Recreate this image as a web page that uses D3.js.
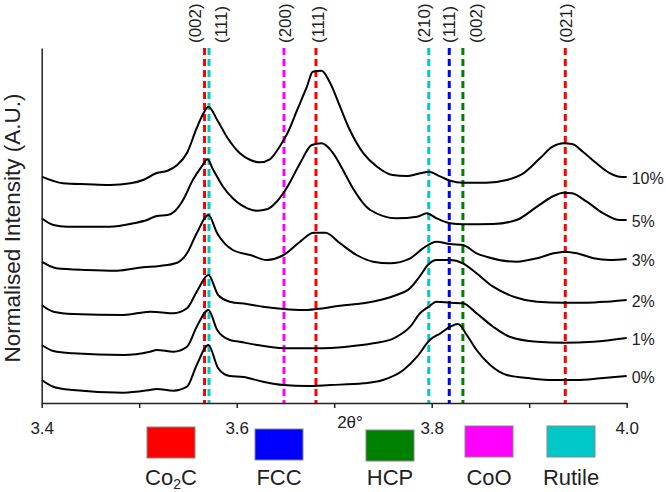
<!DOCTYPE html>
<html>
<head>
<meta charset="utf-8">
<script src="https://cdn.jsdelivr.net/npm/d3@7"></script>
<style>
  body { margin: 0; background: #fff; }
  svg { font-family: Arial, "Liberation Sans", sans-serif; }
</style>
</head>
<body>
<div id="chart"></div>
<script>
// 2theta (deg) vs normalised intensity (A.U., offset per sample)
var s0 = [[3.400,2.30],[3.412,1.63],[3.432,1.30],[3.484,1.03],[3.511,1.30],[3.518,1.40],[3.535,1.23],[3.549,1.63],[3.559,3.80],[3.571,5.80],[3.581,3.47],[3.593,2.70],[3.607,2.60],[3.627,2.13],[3.648,1.80],[3.672,1.70],[3.696,1.80],[3.730,1.97],[3.750,2.30],[3.771,3.30],[3.785,4.63],[3.798,6.30],[3.809,6.97],[3.819,7.63],[3.827,7.90],[3.836,6.80],[3.846,5.30],[3.860,3.80],[3.877,2.80],[3.901,2.47],[3.925,2.30],[3.949,2.30],[3.973,2.47],[4.000,2.70]];
var s1 = [[3.400,5.80],[3.412,5.20],[3.432,4.97],[3.484,4.80],[3.511,5.13],[3.518,5.30],[3.535,5.13],[3.549,5.63],[3.559,7.63],[3.571,9.30],[3.580,7.30],[3.593,6.30],[3.603,6.13],[3.621,5.80],[3.648,5.47],[3.682,5.47],[3.713,5.63],[3.740,5.97],[3.761,6.47],[3.778,7.63],[3.788,8.97],[3.797,9.63],[3.805,10.13],[3.819,10.03],[3.832,9.97],[3.846,8.97],[3.863,7.63],[3.880,6.63],[3.908,6.13],[3.935,6.03],[3.966,6.13],[4.000,6.50]];
var s2 = [[3.400,9.80],[3.412,9.13],[3.432,8.90],[3.484,8.80],[3.511,9.13],[3.521,9.07],[3.535,8.97],[3.549,9.47],[3.559,11.13],[3.571,12.80],[3.581,10.80],[3.593,10.13],[3.610,9.90],[3.627,9.63],[3.648,9.40],[3.667,9.30],[3.682,9.40],[3.706,9.73],[3.730,9.97],[3.747,10.30],[3.764,10.80],[3.778,11.50],[3.788,12.70],[3.796,13.80],[3.805,14.30],[3.819,14.30],[3.832,13.97],[3.846,12.97],[3.863,11.63],[3.884,10.63],[3.908,10.13],[3.935,10.03],[3.959,10.03],[3.980,10.13],[4.000,10.30]];
var s3 = [[3.400,14.13],[3.415,13.47],[3.446,13.30],[3.477,13.23],[3.504,13.57],[3.521,13.70],[3.539,14.03],[3.549,14.97],[3.559,16.97],[3.571,18.80],[3.580,16.97],[3.596,15.30],[3.614,14.80],[3.631,14.30],[3.648,14.80],[3.665,16.13],[3.679,17.03],[3.691,17.03],[3.706,15.97],[3.723,14.80],[3.740,14.13],[3.757,13.97],[3.778,14.47],[3.791,15.47],[3.805,16.13],[3.819,15.90],[3.832,15.80],[3.846,14.97],[3.856,14.63],[3.887,14.13],[3.908,14.47],[3.925,14.97],[3.937,15.13],[3.949,14.97],[3.966,14.47],[3.983,14.30],[4.000,14.40]];
var s5 = [[3.400,18.47],[3.412,17.80],[3.426,17.63],[3.470,17.63],[3.494,17.97],[3.508,18.30],[3.518,18.70],[3.529,18.80],[3.537,19.23],[3.545,20.30],[3.555,22.30],[3.564,23.63],[3.570,24.37],[3.576,23.30],[3.586,21.63],[3.596,20.47],[3.611,19.47],[3.621,19.23],[3.631,19.37],[3.641,20.13],[3.652,21.63],[3.665,23.97],[3.677,25.80],[3.687,25.97],[3.699,24.97],[3.709,23.30],[3.719,21.50],[3.737,19.30],[3.764,18.47],[3.785,18.63],[3.795,18.97],[3.805,18.47],[3.819,17.97],[3.832,17.87],[3.863,17.90],[3.887,18.30],[3.908,19.63],[3.925,20.70],[3.935,21.03],[3.944,20.97],[3.959,20.13],[3.976,18.97],[3.993,18.30],[4.000,18.30]];
var s10 = [[3.400,22.63],[3.422,21.97],[3.447,21.87],[3.470,21.80],[3.491,21.97],[3.504,22.30],[3.518,23.00],[3.529,23.23],[3.539,23.80],[3.549,25.00],[3.559,27.50],[3.565,28.80],[3.571,29.63],[3.580,28.30],[3.590,26.60],[3.603,25.00],[3.614,24.30],[3.624,24.07],[3.634,24.37],[3.644,25.63],[3.652,26.97],[3.662,29.30],[3.672,31.63],[3.678,33.13],[3.687,33.23],[3.696,31.97],[3.706,29.63],[3.716,27.30],[3.730,24.97],[3.744,23.63],[3.760,22.80],[3.774,22.70],[3.788,22.97],[3.797,23.13],[3.809,22.63],[3.819,22.23],[3.832,22.03],[3.856,22.03],[3.877,22.30],[3.894,22.97],[3.911,24.47],[3.924,25.63],[3.935,25.97],[3.944,25.90],[3.955,25.13],[3.969,23.97],[3.983,22.97],[3.993,22.63],[4.000,22.60]];

var seriesNames = ['0%', '1%', '2%', '3%', '5%', '10%'];
var seriesValues = [s0, s1, s2, s3, s5, s10];

// reference peak positions
var peakPhases = ['Co2C', 'Rutile', 'CoO', 'Co2C', 'Rutile', 'FCC', 'HCP', 'Co2C'];
var peakPositions = [3.567, 3.5716, 3.6485, 3.6813, 3.797, 3.818, 3.832, 3.937];
var peakLabels = ['(002)', '(111)', '(200)', '(111)', '(210)', '(111)', '(002)', '(021)'];
var peakLabelPositions = [3.5575, 3.584, 3.6495, 3.6838, 3.792, 3.818, 3.845, 3.938];

var phases = ['Co2C', 'FCC', 'HCP', 'CoO', 'Rutile'];
var phaseColors = ['#ff0000', '#0000ff', '#008000', '#ff00ff', '#00c8c8'];

var xTicks = [3.4, 3.5, 3.6, 3.7, 3.8, 3.9, 4.0];
var xTickLabels = ['3.4', '', '3.6', '', '3.8', '', '4.0'];

(function() {
  var width = 666, height = 492;
  var plotLeft = 41.7, plotRight = 626.7, plotTop = 48, plotBottom = 403;

  var svg = d3.select('#chart').append('svg')
    .attr('width', width)
    .attr('height', height);

  var x = d3.scaleLinear().domain([3.4, 4.0]).range([plotLeft, plotRight]);
  var y = d3.scaleLinear().domain([0, 35.5]).range([plotBottom, plotTop]);
  var color = d3.scaleOrdinal().domain(phases).range(phaseColors);

  // dashed reference lines
  svg.append('g').selectAll('line')
    .data(peakPositions)
    .enter().append('line')
      .attr('x1', function(d) { return x(d); })
      .attr('x2', function(d) { return x(d); })
      .attr('y1', plotTop)
      .attr('y2', plotBottom)
      .attr('stroke', function(d, i) { return color(peakPhases[i]); })
      .attr('stroke-width', 3)
      .attr('stroke-dasharray', '7,4');

  svg.append('g').selectAll('text')
    .data(peakLabels)
    .enter().append('text')
      .attr('transform', function(d, i) {
        return 'translate(' + x(peakLabelPositions[i]) + ',43) rotate(-90)';
      })
      .attr('dy', '0.35em')
      .attr('font-size', 17)
      .attr('fill', '#222')
      .text(function(d) { return d; });

  // curves
  var line = d3.line()
    .x(function(d) { return x(d[0]); })
    .y(function(d) { return y(d[1]); })
    .curve(d3.curveMonotoneX);

  svg.append('g').selectAll('path')
    .data(seriesValues)
    .enter().append('path')
      .attr('d', line)
      .attr('fill', 'none')
      .attr('stroke', '#000')
      .attr('stroke-width', 2);

  svg.append('g').selectAll('text')
    .data(seriesNames)
    .enter().append('text')
      .attr('x', plotRight + 5)
      .attr('y', function(d, i) {
        var s = seriesValues[i];
        return y(s[s.length - 1][1]) + 7;
      })
      .attr('font-size', 16)
      .attr('fill', '#222')
      .text(function(d) { return d; });

  // axes
  var xAxis = d3.axisBottom(x)
    .tickValues(xTicks)
    .tickSize(5)
    .tickSizeOuter(0)
    .tickPadding(14)
    .tickFormat(function(d, i) { return xTickLabels[i]; });

  var xg = svg.append('g')
    .attr('transform', 'translate(0,' + plotBottom + ')')
    .call(xAxis);
  xg.selectAll('text').attr('font-size', 17).attr('fill', '#222').attr('font-family', null);
  xg.selectAll('line, path').attr('stroke', '#222').attr('stroke-width', 1.5);

  var yg = svg.append('g')
    .attr('transform', 'translate(' + plotLeft + ',0)')
    .call(d3.axisLeft(y).tickValues([]).tickSizeOuter(0));
  yg.selectAll('path').attr('stroke', '#222').attr('stroke-width', 1.5);

  svg.append('text')
    .attr('x', 350)
    .attr('y', 428)
    .attr('text-anchor', 'middle')
    .attr('font-size', 17)
    .attr('fill', '#222')
    .text('2θ°');

  svg.append('text')
    .attr('transform', 'translate(20,228) rotate(-90)')
    .attr('text-anchor', 'middle')
    .attr('font-size', 22.5)
    .attr('fill', '#222')
    .text('Normalised Intensity (A.U.)');

  // legend
  var legendX = [147, 255, 366, 465, 547];
  var legendY = [427, 429, 430, 426, 426];

  var legend = svg.append('g').selectAll('g')
    .data(phases)
    .enter().append('g')
      .attr('transform', function(d, i) { return 'translate(' + legendX[i] + ',' + legendY[i] + ')'; });

  legend.append('rect')
    .attr('width', 48)
    .attr('height', 31)
    .attr('fill', function(d) { return color(d); })
    .attr('stroke', '#888')
    .attr('stroke-width', 1);

  legend.append('text')
    .attr('x', 24)
    .attr('y', function(d, i) { return 485 - legendY[i]; })
    .attr('text-anchor', 'middle')
    .attr('font-size', 22)
    .attr('fill', '#222')
    .each(function(d) {
      var t = d3.select(this);
      if (d === 'Co2C') {
        t.append('tspan').text('Co');
        t.append('tspan').attr('font-size', 14).attr('dy', 4).text('2');
        t.append('tspan').attr('dy', -4).text('C');
      } else {
        t.text(d);
      }
    });
})();
</script>
</body>
</html>
